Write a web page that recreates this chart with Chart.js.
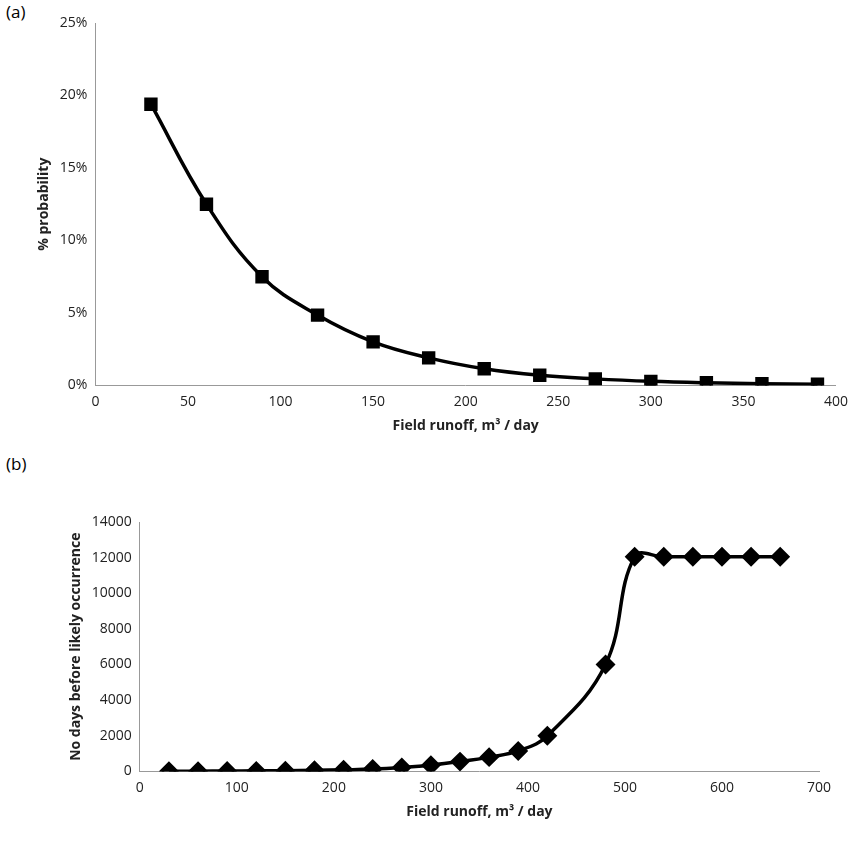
<!DOCTYPE html>
<html>
<head>
<meta charset="utf-8">
<script src="https://cdn.jsdelivr.net/npm/chart.js@4"></script>
<style>
  body { margin: 0; background: #fff; font-family: "Open Sans", sans-serif; }
  .lbl { position: absolute; font-size: 17px; color: #000; }
  canvas { position: absolute; left: 0; }
</style>
</head>
<body>
<div class="lbl" style="left:6px;top:0px;">(a)</div>
<div class="lbl" style="left:6px;top:452px;">(b)</div>
<canvas id="a" width="851" height="440" style="top:0"></canvas>
<canvas id="b" width="851" height="386" style="top:440px"></canvas>
<script>
const runoffA = [30, 60, 90, 120, 150, 180, 210, 240, 270, 300, 330, 360, 390];
const probability = [19.4, 12.5, 7.5, 4.85, 3.0, 1.9, 1.15, 0.7, 0.45, 0.28, 0.18, 0.12, 0.08];

const runoffB = [30, 60, 90, 120, 150, 180, 210, 240, 270, 300, 330, 360, 390, 420, 480, 510, 540, 570, 600, 630, 660];
const daysBefore = [10, 15, 20, 30, 40, 60, 90, 130, 220, 350, 550, 800, 1150, 2000, 6000, 12050, 12050, 12050, 12050, 12050, 12050];

const font = { family: "Open Sans", size: 14 };
const boldFont = { family: "Open Sans", size: 14, weight: "bold" };

function axis(min, max, step, title, cb) {
  return {
    type: "linear", min, max,
    grid: { display: false, drawTicks: true, tickLength: 5, tickColor: "#999" },
    border: { color: "#999" },
    ticks: { stepSize: step, color: "#222", font, callback: cb },
    title: { display: true, text: title, color: "#222", font: boldFont },
  };
}

function makeChart(id, xs, ys, style, size, xAxis, yAxis, padding) {
  new Chart(document.getElementById(id), {
    type: "scatter",
    data: {
      datasets: [{
        data: xs.map((x, i) => ({ x, y: ys[i] })),
        showLine: true, tension: 0.4,
        borderColor: "#000", borderWidth: 3.5,
        pointStyle: style, pointRadius: size, pointBackgroundColor: "#000", pointBorderColor: "#000",
      }],
    },
    options: {
      responsive: false, animation: false,
      layout: { padding },
      plugins: { legend: { display: false }, tooltip: { enabled: false } },
      scales: { x: xAxis, y: yAxis },
    },
  });
}

makeChart("a", runoffA, probability, "rect", 7,
  axis(0, 400, 50, "Field runoff, m\u00b3 / day"),
  axis(0, 25, 5, "% probability", v => v + "%"),
  { left: 32, right: 12, top: 23, bottom: 2 });

makeChart("b", runoffB, daysBefore, "rectRot", 7.5,
  axis(0, 700, 100, "Field runoff, m\u00b3 / day"),
  axis(0, 14000, 2000, "No days before likely occurrence"),
  { left: 64, right: 32, top: 82, bottom: 2 });
</script>
</body>
</html>
